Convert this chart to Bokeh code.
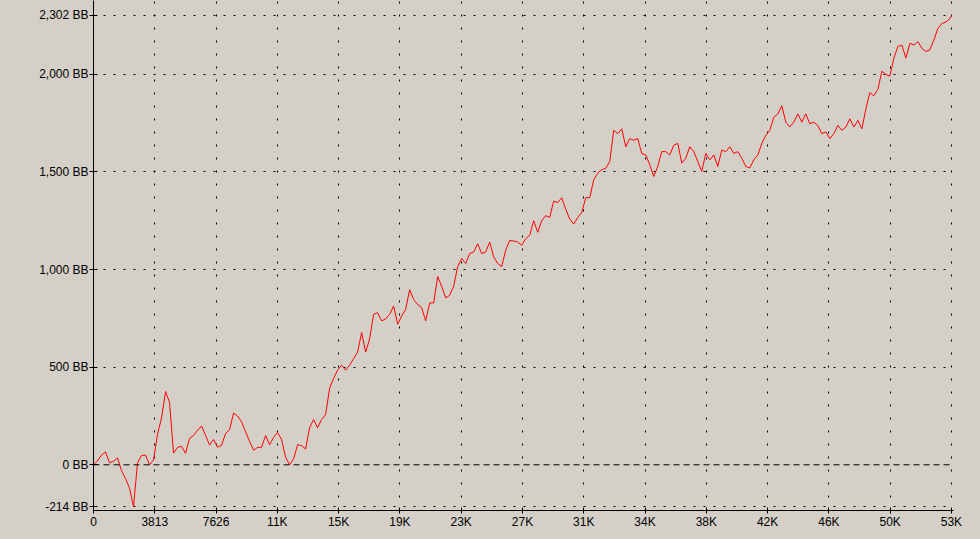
from bokeh.plotting import figure
from bokeh.models import Range1d, FixedTicker, Span
from bokeh.embed import file_html
from bokeh.resources import INLINE

# ---- data ----
hand_step = 249
bb_won = [
    0, 20, 50, 66, 10, 18, 35, -30, -70, -120, -214, 10, 48, 50, 0, 25, 156, 240, 375, 320,
    60, 89, 95, 59, 135, 150, 177, 199, 150, 101, 130, 90, 100, 160, 180, 265, 250, 220, 170, 120,
    75, 89, 90, 150, 103, 140, 165, 130, 39, 0,
    30, 103, 98, 81, 190, 232, 190, 232, 257, 392, 443, 485, 510, 485, 510, 544, 577, 678, 577, 645,
    771, 779, 737, 747, 771, 813, 720, 762, 796, 897, 847, 821, 805, 737, 829, 829, 964,
    914, 855, 868, 914, 1015, 1057, 1031, 1082, 1090, 1132, 1082, 1090, 1141, 1065, 1031, 1015, 1099,
    1149, 1146, 1141, 1124, 1158, 1175, 1250, 1191, 1250, 1276, 1267, 1351, 1343, 1368, 1309, 1259,
    1233, 1267, 1292, 1368, 1368, 1460, 1494, 1511, 1519, 1553,
    1713, 1696, 1721, 1629, 1671, 1662, 1671, 1595, 1587, 1536, 1477, 1528, 1604, 1604, 1587, 1637,
    1646, 1545, 1570, 1629, 1604, 1553, 1503, 1595, 1562, 1587, 1528, 1612, 1604, 1629, 1595, 1604,
    1570, 1528, 1520, 1562, 1587, 1646, 1688, 1713,
    1780, 1797, 1839, 1755, 1730, 1755, 1797, 1755, 1797, 1747, 1755, 1738, 1696, 1705, 1671, 1696,
    1738, 1713, 1730, 1772, 1730, 1764, 1721, 1822, 1906, 1890, 1923, 2016, 1999, 1991, 2083, 2142,
    2150, 2083, 2159, 2150, 2167, 2133, 2117, 2125, 2176, 2235, 2260, 2268, 2285,
    2302,
]
total_hands = 53382
hands = [i * hand_step for i in range(len(bb_won) - 1)] + [total_hands]

x_ticks = [0, 3813, 7626, 11439, 15252, 19065, 22878, 26691, 30504, 34317, 38130, 41943, 45756, 49569, 53382]
x_tick_labels = ["0", "3813", "7626", "11K", "15K", "19K", "23K", "27K", "31K", "34K", "38K", "42K", "46K", "50K", "53K"]
y_ticks = [-214, 0, 500, 1000, 1500, 2000, 2302]
y_tick_labels = ["-214 BB", "0 BB", "500 BB", "1,000 BB", "1,500 BB", "2,000 BB", "2,302 BB"]

BG = "#D4D0C8"
FONT = "Liberation Sans"

p = figure(width=972, height=531, output_backend="svg", toolbar_location=None,
           x_range=Range1d(0, 53510), y_range=Range1d(-234, 2378),
           min_border_left=93, min_border_right=19, min_border_top=0, min_border_bottom=18)
p.background_fill_color = BG
p.border_fill_color = BG
p.outline_line_color = None

p.line(hands, bb_won, line_color="#FF0000", line_width=1)

# axes
p.xaxis.ticker = FixedTicker(ticks=x_ticks)
p.xaxis.major_label_overrides = {t: l for t, l in zip(x_ticks, x_tick_labels)}
p.yaxis.ticker = FixedTicker(ticks=y_ticks)
p.yaxis.major_label_overrides = {t: l for t, l in zip(y_ticks, y_tick_labels)}
for ax in (p.xaxis[0], p.yaxis[0]):
    ax.axis_line_color = "black"
    ax.major_tick_line_color = "black"
    ax.minor_tick_line_color = None
    ax.major_label_text_font = FONT
    ax.major_label_text_font_size = "12px"
    ax.major_label_text_color = "black"
p.xaxis.major_tick_in = 3
p.xaxis.major_tick_out = 3
p.xaxis.major_label_standoff = 1
p.yaxis.major_tick_in = 4
p.yaxis.major_tick_out = 4
p.yaxis.major_label_standoff = 1

# grids
p.xgrid.ticker = FixedTicker(ticks=x_ticks[1:])
p.xgrid.grid_line_color = "black"
p.xgrid.grid_line_dash = "2 11"
p.ygrid.ticker = FixedTicker(ticks=[t for t in y_ticks if t != 0])
p.ygrid.grid_line_color = "black"
p.ygrid.grid_line_dash = "2 8"

zero = Span(location=0, dimension="width", line_color="black", line_width=1, line_dash="6 4")
p.add_layout(zero)

html = file_html(p, INLINE)
html = html.replace("<head>", "<head><style>body{background:#D4D0C8;}</style>", 1)
open("out.html", "w").write(html)
